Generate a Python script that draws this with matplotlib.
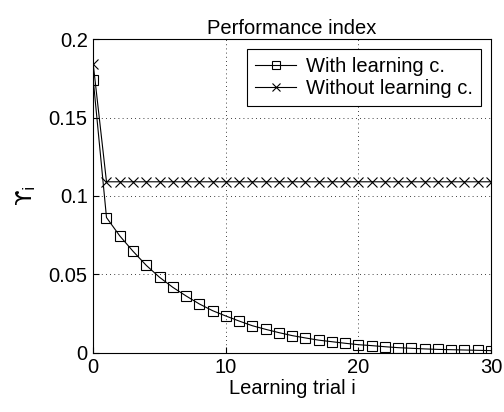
import numpy as np
import matplotlib
matplotlib.use('Agg')
import matplotlib.pyplot as plt

plt.rcParams['font.family'] = ['Liberation Sans', 'DejaVu Sans']
plt.rcParams['mathtext.fontset'] = 'dejavusans'

# Werte
trials = np.arange(0, 31)
with_learning = [0.174, 0.0862, 0.0745, 0.0647, 0.0557, 0.0481, 0.0417, 0.0362,
                 0.0311, 0.0268, 0.0234, 0.0202, 0.0172, 0.0149, 0.0128, 0.0109,
                 0.0094, 0.0080, 0.0070, 0.0060, 0.0051, 0.0045, 0.0038, 0.0032,
                 0.0028, 0.0024, 0.0021, 0.0019, 0.0017, 0.0015, 0.0013]
without_learning = [0.184] + [0.109] * 30

fig = plt.figure(figsize=(5.04, 4.12), dpi=100)
ax = fig.add_axes([0.185, 0.144, 0.789, 0.761])

ax.plot(trials, with_learning, color='black', lw=0.8, marker='s', ms=7,
        mfc='none', mec='black', mew=0.8, label='With learning c.')
ax.plot(trials, without_learning, color='black', lw=0.8, marker='x', ms=7,
        mew=0.8, label='Without learning c.')

ax.set_xlim(0, 30)
ax.set_ylim(0, 0.2)
ax.set_xticks([0, 10, 20, 30])
ax.set_yticks([0, 0.05, 0.1, 0.15, 0.2])
ax.set_yticklabels(['0', '0.05', '0.1', '0.15', '0.2'])
ax.tick_params(direction='in', labelsize=14.5, length=4, pad=4)
ax.grid(True, linestyle=(0, (1, 4)), color='black', lw=0.6)

ax.set_title('Performance index', fontsize=14.5, pad=4)
ax.set_xlabel('Learning trial i', fontsize=14.5, labelpad=1)
ax.set_ylabel(r'$\mathrm{ϒ}_\mathrm{i}$', fontsize=16, labelpad=8)

leg = ax.legend(loc='upper right', fontsize=14.5, fancybox=False, edgecolor='black',
                framealpha=1, borderaxespad=0.5, handlelength=2.0,
                handletextpad=0.5, borderpad=0.4, labelspacing=0.12,
                markerscale=0.85)
leg.get_frame().set_linewidth(0.8)

plt.savefig('out.png', dpi=100)
